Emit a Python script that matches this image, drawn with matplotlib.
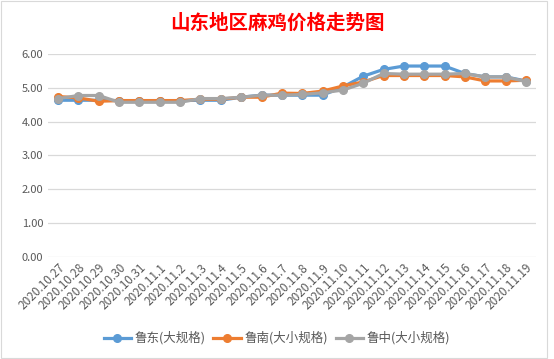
import matplotlib
matplotlib.use("Agg")
import matplotlib.pyplot as plt
from matplotlib.patches import Rectangle

plt.rcParams["font.family"] = ["Noto Sans CJK SC", "DejaVu Sans"]

dates = ["2020.10.27", "2020.10.28", "2020.10.29", "2020.10.30", "2020.10.31",
         "2020.11.1", "2020.11.2", "2020.11.3", "2020.11.4", "2020.11.5",
         "2020.11.6", "2020.11.7", "2020.11.8", "2020.11.9", "2020.11.10",
         "2020.11.11", "2020.11.12", "2020.11.13", "2020.11.14", "2020.11.15",
         "2020.11.16", "2020.11.17", "2020.11.18", "2020.11.19"]

ludong = [4.63, 4.63, 4.63, 4.62, 4.62, 4.62, 4.62, 4.63, 4.63, 4.72,
          4.78, 4.78, 4.78, 4.78, 5.02, 5.34, 5.54, 5.64, 5.64, 5.64,
          5.42, 5.32, 5.32, 5.20]
lunan = [4.74, 4.70, 4.60, 4.62, 4.62, 4.62, 4.62, 4.66, 4.66, 4.72,
         4.72, 4.84, 4.83, 4.90, 5.05, 5.17, 5.36, 5.36, 5.36, 5.36,
         5.32, 5.20, 5.20, 5.22]
luzhong = [4.68, 4.77, 4.77, 4.57, 4.57, 4.57, 4.57, 4.68, 4.68, 4.72,
           4.78, 4.78, 4.80, 4.85, 4.93, 5.13, 5.42, 5.40, 5.40, 5.40,
           5.42, 5.32, 5.32, 5.18]

series = [("鲁东(大规格)", ludong, "#5B9BD5"),
          ("鲁南(大小规格)", lunan, "#ED7D31"),
          ("鲁中(大小规格)", luzhong, "#A5A5A5")]

fig = plt.figure(figsize=(5.54, 3.59), dpi=100)
ax = fig.add_axes([0.0866, 0.284, 0.881, 0.566])

x = list(range(len(dates)))
for name, vals, col in series:
    ax.plot(x, vals, color=col, lw=2.3, marker="o", ms=5.5, label=name)

ax.set_xlim(-0.5, len(dates) - 0.5)
ax.set_ylim(0, 6)
ax.set_yticks([0, 1, 2, 3, 4, 5, 6])
ax.set_yticklabels([f"{v:.2f}" for v in [0, 1, 2, 3, 4, 5, 6]])
ax.set_xticks(x)
ax.set_xticklabels(dates, rotation=45, ha="right", rotation_mode="anchor")
ax.tick_params(axis="both", length=0, labelsize=8, colors="#595959")
ax.tick_params(axis="x", labelsize=8.5, pad=3)
ax.grid(axis="y", color="#D9D9D9", lw=0.9)
ax.set_axisbelow(True)
for s in ax.spines.values():
    s.set_visible(False)

fig.text(0.5, 0.935, "山东地区麻鸡价格走势图", color="red", fontsize=14,
         fontweight="bold", ha="center", va="center")

ax.legend(loc="center", bbox_to_anchor=(0.5, 0.058), bbox_transform=fig.transFigure,
          ncol=3, frameon=False, fontsize=9, handlelength=2.2, columnspacing=0.6,
          handletextpad=0.3, labelcolor="#595959")

fig.patches.append(Rectangle((0.002, 0.003), 0.985, 0.994, transform=fig.transFigure,
                             fill=False, edgecolor="#D9D9D9", lw=0.8))

fig.savefig("out.png", dpi=100)
